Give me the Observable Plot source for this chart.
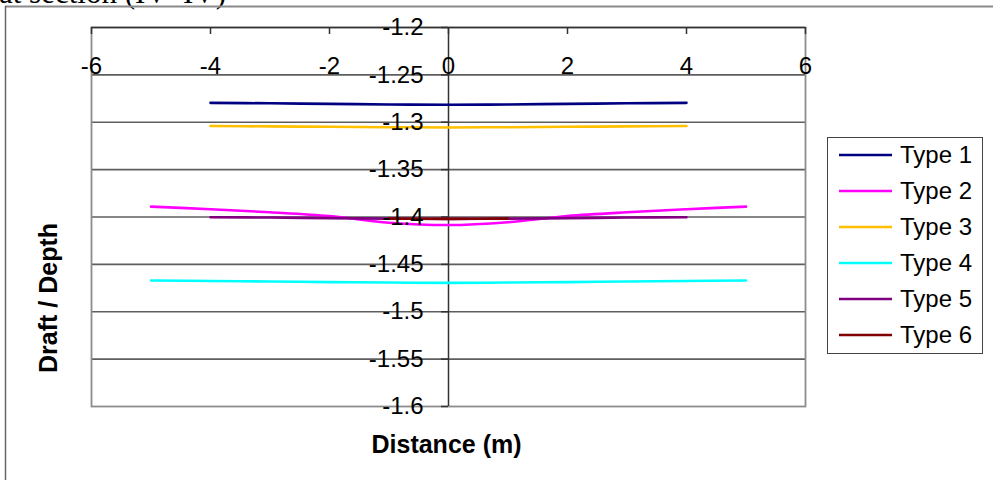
<!DOCTYPE html>
<html><head><meta charset="utf-8">
<script src="https://cdn.jsdelivr.net/npm/d3@7"></script>
<script src="https://cdn.jsdelivr.net/npm/@observablehq/plot@0.6"></script>
<style>
html,body{margin:0;padding:0;background:#fff;}
#wrap{position:relative;width:993px;height:480px;overflow:hidden;font-family:"Liberation Sans",Arial,sans-serif;}
#deco{position:absolute;left:0;top:0;}
#chart{position:absolute;left:0;top:0;}
#legend{position:absolute;left:827px;top:137px;width:156px;height:217px;border:1.5px solid #444;box-sizing:border-box;background:#fff;}
.item{position:absolute;left:11px;height:30px;display:flex;align-items:center;font-size:24px;color:#000;white-space:nowrap;}
.item svg{margin-right:8px;}
#ylab{position:absolute;left:48px;top:298px;transform:translate(-50%,-50%) rotate(-90deg);font-weight:bold;font-size:25px;white-space:nowrap;line-height:1;}
</style></head>
<body><div id="wrap">
<svg id="deco" width="993" height="480">
  <text x="-1" y="3" font-family="Liberation Serif, 'Times New Roman', serif" font-size="31">at section (IV- IV)</text>
  <line x1="5" y1="6.5" x2="993" y2="6.5" stroke="#8a8a8a" stroke-width="2"/>
  <line x1="5.5" y1="6" x2="5.5" y2="480" stroke="#666" stroke-width="1.5"/>
</svg>
<div id="chart"></div>
<div id="ylab"></div>
<div id="legend"></div>
</div>
<script>
// ---- data ----
const seriesNames = ["Type 1", "Type 2", "Type 3", "Type 4", "Type 5", "Type 6"];
const seriesColors = ["#000080", "#FF00FF", "#FFC000", "#00FFFF", "#800080", "#800000"];

const xShort = [-4, -3, -2, -1, 0, 1, 2, 3, 4];
const xLong = [-5, -4, -3, -2, -1, 0, 1, 2, 3, 4, 5];
const xType6 = [-1, 0, 1];

const type1 = [-1.2795, -1.2800, -1.2806, -1.2812, -1.2816, -1.2812, -1.2806, -1.2800, -1.2795];
const type2 = [-1.3890, -1.3918, -1.3950, -1.3990, -1.4060, -1.4085, -1.4055, -1.3990, -1.3950, -1.3918, -1.3890];
const type3 = [-1.3040, -1.3044, -1.3048, -1.3052, -1.3055, -1.3052, -1.3048, -1.3044, -1.3040];
const type4 = [-1.4670, -1.4675, -1.4681, -1.4687, -1.4692, -1.4695, -1.4692, -1.4687, -1.4681, -1.4675, -1.4670];
const type5 = [-1.4002, -1.4006, -1.4012, -1.4017, -1.4020, -1.4017, -1.4012, -1.4006, -1.4002];
const type6 = [-1.4017, -1.4020, -1.4017];

const xTicks = [-6, -4, -2, 0, 2, 4, 6];
const xTickLabels = ["-6", "-4", "-2", "0", "2", "4", "6"];
const yTicks = [-1.2, -1.25, -1.3, -1.35, -1.4, -1.45, -1.5, -1.55, -1.6];
const yTickLabels = ["-1.2", "-1.25", "-1.3", "-1.35", "-1.4", "-1.45", "-1.5", "-1.55", "-1.6"];

const xLabel = "Distance (m)";
const yLabel = "Draft / Depth";

// ---- build table ----
const seriesX = [xShort, xLong, xShort, xLong, xShort, xType6];
const seriesY = [type1, type2, type3, type4, type5, type6];
const rows = [];
seriesNames.forEach((name, i) => {
  seriesX[i].forEach((x, j) => rows.push({series: name, x, y: seriesY[i][j]}));
});
const gridVals = yTicks.slice(1, -1);

const chart = Plot.plot({
  width: 993,
  height: 480,
  marginLeft: 91,
  marginRight: 188,
  marginTop: 27,
  marginBottom: 74,
  x: {domain: [-6, 6], axis: null},
  y: {domain: [-1.6, -1.2], axis: null},
  color: {domain: seriesNames, range: seriesColors},
  style: {background: "transparent", fontFamily: "'Liberation Sans', Arial, sans-serif", fontSize: "24px", overflow: "visible"},
  marks: [
    Plot.ruleY(gridVals, {stroke: "#5e5e5e", strokeWidth: 1.6}),
    Plot.frame({stroke: "#8c8c8c", strokeWidth: 1.8}),
    Plot.ruleX([0], {stroke: "#333", strokeWidth: 1.5}),
    Plot.ruleY([-1.2], {stroke: "#333", strokeWidth: 1.6}),
    Plot.ruleX(xTicks, {x: d => d, y1: () => -1.2, y2: () => -1.2, insetBottom: -7, stroke: "#333", strokeWidth: 1.5}),
    Plot.ruleY(yTicks, {y: d => d, x1: () => 0, x2: () => 0, insetLeft: -7, stroke: "#333", strokeWidth: 1.5}),
    Plot.line(rows, {x: "x", y: "y", z: "series", stroke: "series", strokeWidth: 2.6, curve: "catmull-rom"}),
    Plot.text(xTicks, {x: d => d, y: () => -1.2, dy: 39, text: (d, i) => xTickLabels[i], fill: "#000", lineAnchor: "middle"}),
    Plot.text(yTicks, {x: () => 0, y: d => d, dx: -25, text: (d, i) => yTickLabels[i], textAnchor: "end", fill: "#000", lineAnchor: "middle"}),
    Plot.text([xLabel], {frameAnchor: "bottom", text: d => d, dy: 38, dx: -2, fontWeight: "bold", fontSize: 25, fill: "#000", lineAnchor: "middle"})
  ]
});
document.getElementById("chart").appendChild(chart);
document.getElementById("ylab").textContent = yLabel;

// ---- legend ----
const legend = document.getElementById("legend");
seriesNames.forEach((name, i) => {
  const item = document.createElement("div");
  item.className = "item";
  item.style.top = (17 + 36 * i - 15) + "px";
  item.innerHTML = `<svg width="53" height="6"><line x1="0" y1="3" x2="53" y2="3" stroke="${seriesColors[i]}" stroke-width="2.6"/></svg><span>${name}</span>`;
  legend.appendChild(item);
});
</script>
</body></html>
